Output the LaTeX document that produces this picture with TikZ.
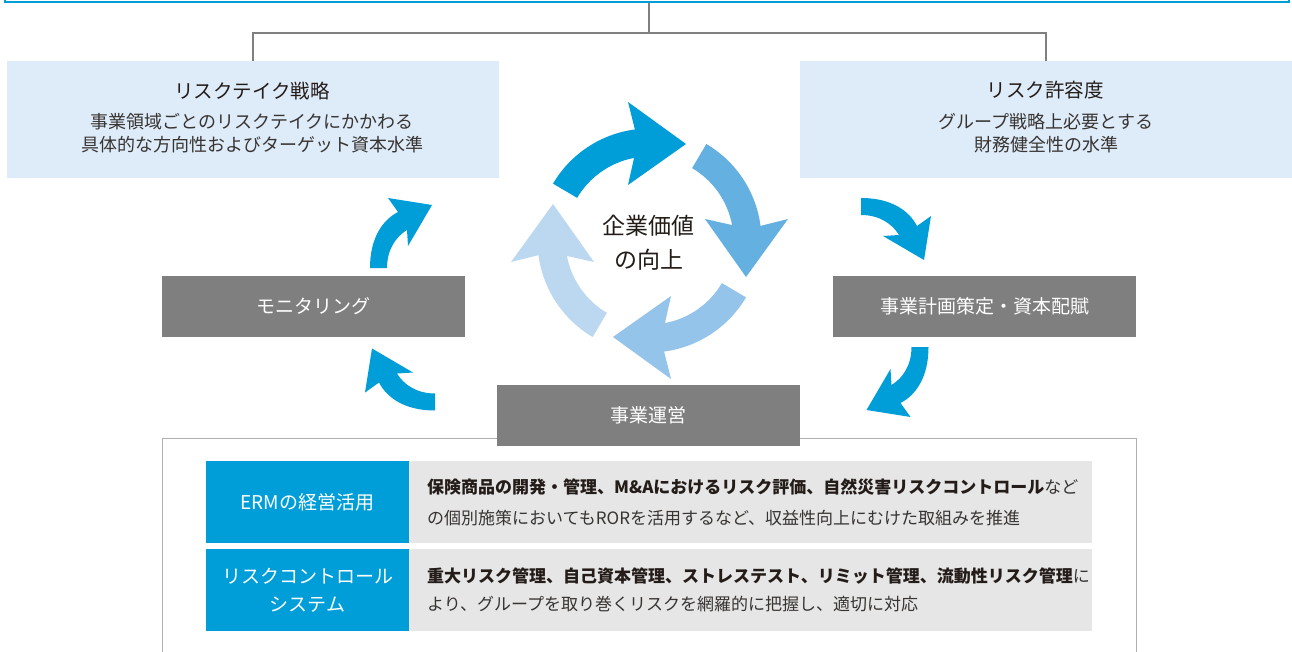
\documentclass[tikz,border=0pt]{standalone}
\usepackage{fontspec}
\setmainfont{Noto Sans CJK JP}
\definecolor{ablue}{RGB}{0,158,217}
\definecolor{arB}{RGB}{100,176,224}
\definecolor{arC}{RGB}{149,196,234}
\definecolor{arD}{RGB}{187,216,240}
\definecolor{lightbg}{RGB}{222,235,248}
\definecolor{boxgray}{RGB}{127,127,127}
\definecolor{cellgray}{RGB}{230,230,230}
\definecolor{conngray}{RGB}{128,128,128}
\definecolor{panelgray}{RGB}{175,175,175}
\definecolor{txt}{RGB}{55,52,50}
\definecolor{txtdark}{RGB}{35,28,25}
\begin{document}
\begin{tikzpicture}[x=1pt,y=-1pt,
  lbox/.style={fill=lightbg, inner sep=0pt, minimum width=492pt, minimum height=117pt},
  gbox/.style={fill=boxgray, inner sep=0pt, minimum width=303pt, minimum height=61pt, text=white, font=\fontsize{19}{22}\selectfont},
  bcell/.style={fill=ablue, inner sep=0pt, minimum width=203pt, minimum height=82pt, text=white, align=center, font=\fontsize{19}{28}\selectfont},
  gcell/.style={fill=cellgray, inner sep=0pt, minimum width=683pt, minimum height=82pt},
  ttl/.style={text=txtdark, inner sep=0pt, font=\fontsize{19.5}{22}\selectfont},
  bodytxt/.style={text=txt, inner sep=0pt, font=\fontsize{18}{22}\selectfont},
  celltxt/.style={text=txt, inner sep=0pt, anchor=west, font=\fontsize{17}{20}\selectfont},
  conn/.style={draw=conngray, line width=2pt},
  sidearrow/.style={fill=ablue}
]
\useasboundingbox (0,0) rectangle (1292,652);
\clip (0,0) rectangle (1292,652);
\fill[white] (0,0) rectangle (1292,652);

% top box (cropped)
\node[draw=ablue, line width=1.5pt, inner sep=0pt, minimum width=1284pt, minimum height=30pt, anchor=south] (top) at (647,3) {};

% light boxes
\node[lbox] (rt) at (252.5,119.5) {};
\node[lbox] (rc) at (1046,119.5) {};

% connectors
\coordinate (tc) at (649,3);
\coordinate (hub) at (649,33);
\draw[conn] (tc) -- (hub);
\draw[conn] (hub) -| (rt.north);
\draw[conn] (hub) -| (rc.north);

% light box texts
\node[ttl] (rt1) at (252,91) {リスクテイク戦略};
\node[bodytxt] (rt2) at (252,122) {事業領域ごとのリスクテイクにかかわる};
\node[bodytxt] (rt3) at (252,145) {具体的な方向性およびターゲット資本水準};
\node[ttl] (rc1) at (1045,90) {リスク許容度};
\node[bodytxt] (rc2) at (1046,122) {グループ戦略上必要とする};
\node[bodytxt] (rc3) at (1046,145) {財務健全性の水準};

% bottom panel
\coordinate (pbl) at (162,660);
\coordinate (ptl) at (162,438);
\coordinate (ptr) at (1136,438);
\coordinate (pbr) at (1136,660);
\draw[draw=panelgray, line width=1pt] (pbl) -- (ptl) -- (ptr) -- (pbr);

% gray boxes
\node[gbox] (mon) at (313.5,306.5) {モニタリング};
\node[gbox] (plan) at (984.5,306.5) {事業計画策定・資本配賦};
\node[gbox] (ops) at (648.5,415) {事業運営};

% central cycle arrows
\coordinate (cen) at (649.5,240.5);
\foreach \ang/\col in {0/ablue,-90/arB,-180/arC,-270/arD}{
  \fill[\col, shift={(cen)}, rotate=\ang]
    (210.5:112) arc[start angle=210.5, end angle=262.5, radius=112]
    -- (-21.5,-138.5) -- (36.5,-96.5) -- (-21.5,-55.5)
    -- (259.4:84) arc[start angle=259.4, end angle=210.5, radius=84] -- cycle;
}
\node[text=txtdark, inner sep=0pt, font=\fontsize{23}{26}\selectfont] (cv1) at (648,225.5) {企業価値};
\node[text=txtdark, inner sep=0pt, font=\fontsize{23}{26}\selectfont] (cv2) at (649,260) {の向上};

% side arrows
\foreach \px/\py/\ang in {378.5/268/0, 861/206.5/-90, 920/347/-180, 435/402/-270}{
  \fill[sidearrow, shift={(\px,\py)}, rotate=\ang]
    (-8.5,0) .. controls (-8.5,-30) and (4,-48) .. (19.5,-56)
    -- (9.5,-70) -- (53.5,-63) -- (29.5,-22) -- (28.5,-38)
    .. controls (17,-31) and (8.5,-18) .. (8.5,0) -- cycle;
}

% table
\node[bcell] (c1) at (307.5,502) {ERMの経営活用};
\node[gcell] (d1) at (750.5,502) {};
\node[bcell] (c2) at (307.5,590) {リスクコントロール\\システム};
\node[gcell] (d2) at (750.5,590) {};

\node[celltxt] (d1a) at (427,487) {\textcolor{txtdark}{\bfseries 保険商品の開発・管理、M\&Aにおけるリスク評価、自然災害リスクコントロール}など};
\node[celltxt] (d1b) at (427,518) {の個別施策においてもRORを活用するなど、収益性向上にむけた取組みを推進};
\node[celltxt] (d2a) at (427,576) {\textcolor{txtdark}{\bfseries 重大リスク管理、自己資本管理、ストレステスト、リミット管理、流動性リスク管理}に};
\node[celltxt] (d2b) at (427,604) {より、グループを取り巻くリスクを網羅的に把握し、適切に対応};
\end{tikzpicture}
\end{document}
